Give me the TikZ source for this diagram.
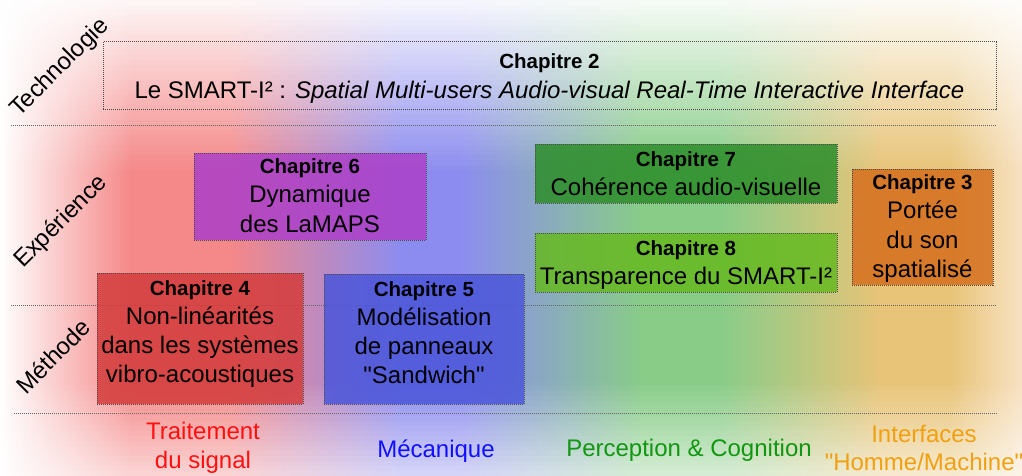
\documentclass[tikz,border=0pt]{standalone}
\usepackage{fontspec}
\setmainfont{Liberation Sans}
\definecolor{bgred}{RGB}{245,136,136}
\definecolor{bgblue}{RGB}{140,140,240}
\definecolor{bggreen}{RGB}{136,204,136}
\definecolor{bgorange}{RGB}{232,196,120}
\definecolor{bgpale}{RGB}{248,226,196}
\definecolor{chsix}{RGB}{172,63,200}
\definecolor{chfour}{RGB}{211,60,60}
\definecolor{chfive}{RGB}{75,86,217}
\definecolor{chseven}{RGB}{44,141,41}
\definecolor{cheight}{RGB}{102,185,32}
\definecolor{chthree}{RGB}{213,111,29}
\definecolor{txtred}{RGB}{255,16,16}
\definecolor{txtblue}{RGB}{16,16,255}
\definecolor{txtgreen}{RGB}{16,150,16}
\definecolor{txtorange}{RGB}{240,160,16}
% box of given width and height, text hung from the top
\newcommand{\chapbody}[5][22]{\parbox[c][#3pt][t]{#2pt}{\centering
    \rule{0pt}{#1pt}{\fontsize{20.5}{29.3}\selectfont\bfseries Chapitre #4}\\#5}}
\tikzset{
    chapbox/.style={draw=black!70, line width=1pt, dash pattern=on 1pt off 1pt,
        fill opacity=0.85, text opacity=1, inner sep=0pt,
        font=\fontsize{24}{29.3}\selectfont},
    sepline/.style={draw=black!60, line width=1pt, dash pattern=on 1pt off 1pt},
    axislabel/.style={rotate=45, font=\fontsize{24}{28}\selectfont},
    domainlabel/.style={align=center, font=\fontsize{24}{28.5}\selectfont}
}
\begin{document}
\begin{tikzpicture}[x=1pt, y=-1pt]
    \useasboundingbox (0,0) rectangle (1022,476);
    % coloured columns
    \foreach \xa/\xb/\ca/\cb in {0/130/white/bgred, 130/230/bgred/bgred,
            230/400/bgred/bgblue, 400/460/bgblue/bgblue, 460/640/bgblue/bggreen,
            640/720/bggreen/bggreen, 720/880/bggreen/bgorange,
            880/950/bgorange/bgorange, 950/1022/bgorange/bgpale}{
        \shade[left color=\ca, right color=\cb] (\xa,0) rectangle (\xb+1,476);
    }
    % fade to white at top and bottom
    \foreach \i [evaluate=\i as \op using {0.92*(1-\i/34)}] in {0,...,33}{
        \fill[white, opacity=\op] (0,\i*5) rectangle (1022,\i*5+5);
    }
    \foreach \i [evaluate=\i as \op using {0.65*(\i+0.5)/19}] in {0,...,18}{
        \fill[white, opacity=\op] (0,381+\i*5) rectangle (1022,386+\i*5);
    }
    \draw[sepline] (11,126) -- (996,126);
    \draw[sepline] (11,305) -- (996,305);
    \draw[sepline] (14,413) -- (998,413);
    \node[axislabel] (techno) at (60,68) {Technologie};
    \node[axislabel] (experience) at (61,222) {Expérience};
    \node[axislabel] (methode) at (53,356) {Méthode};
    \node[chapbox] (ch2) at (549.5,76)
        {\chapbody[27]{893}{68}{2}{Le SMART-I² : \textit{Spatial Multi-users Audio-visual Real-Time Interactive Interface}}};
    \node[chapbox, fill=chsix] (ch6) at (310,196.5)
        {\chapbody[20.5]{232}{87}{6}{Dynamique\\des LaMAPS}};
    \node[chapbox, fill=chfour] (ch4) at (200,338.5)
        {\chapbody{206}{131}{4}{Non-linéarités\\dans les systèmes\\vibro-acoustiques}};
    \node[chapbox, fill=chfive] (ch5) at (424,339)
        {\chapbody{200}{130}{5}{Modélisation\\de panneaux\\\textquotedbl Sandwich\textquotedbl}};
    \node[chapbox, fill=chseven] (ch7) at (686,173.5)
        {\chapbody{302}{59}{7}{Cohérence audio-visuelle}};
    \node[chapbox, fill=cheight] (ch8) at (686,262.5)
        {\chapbody{302}{59}{8}{Transparence du SMART-I²}};
    \node[chapbox, fill=chthree] (ch3) at (922.5,227)
        {\chapbody[20.5]{141}{116}{3}{Portée\\du son\\spatialisé}};
    \node[domainlabel, text=txtred] (signal) at (203,448) {Traitement\\du signal};
    \node[domainlabel, text=txtblue] (meca) at (436,451) {Mécanique};
    \node[domainlabel, text=txtgreen] (percep) at (689,450) {Perception \& Cognition};
    \node[domainlabel, text=txtorange] (hmi) at (924,448) {Interfaces\\\textquotedbl Homme/Machine\textquotedbl};
\end{tikzpicture}
\end{document}
